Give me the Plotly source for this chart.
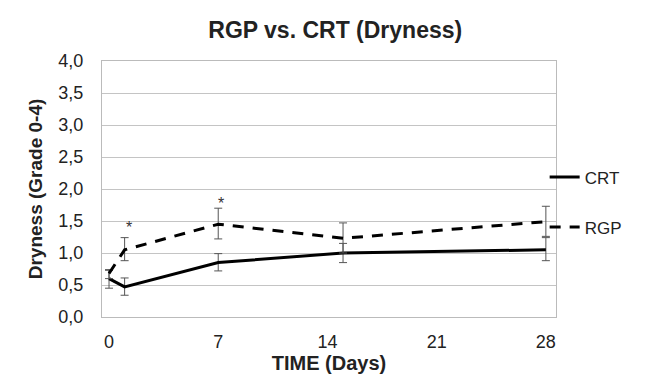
import plotly.graph_objects as go

days_crt = [0, 1, 7, 15, 28]
crt = [0.60, 0.47, 0.85, 1.00, 1.05]
crt_hi = [0.73, 0.61, 0.99, 1.15, 1.24]
crt_lo = [0.45, 0.34, 0.72, 0.85, 0.88]

days_rgp = [0, 1, 7, 15, 28]
rgp = [0.68, 1.05, 1.45, 1.23, 1.49]
rgp_hi = [0.74, 1.24, 1.70, 1.47, 1.73]
rgp_lo = [0.60, 0.88, 1.22, 1.00, 1.26]

star_x = [1.25, 7.2]
star_y = [1.40, 1.78]

x_ticks = [0, 7, 14, 21, 28]
y_ticks = [0, 0.5, 1, 1.5, 2, 2.5, 3, 3.5, 4]

FONT = "Liberation Sans, Arial, sans-serif"
TXT = "#222222"
ERR = "#555555"

fig = go.Figure()
fig.add_trace(go.Scatter(
    x=days_crt, y=crt, mode="lines", name="CRT",
    line=dict(color="black", width=3),
    error_y=dict(type="data", symmetric=False,
                 array=[h - v for h, v in zip(crt_hi, crt)],
                 arrayminus=[v - l for l, v in zip(crt_lo, crt)],
                 color=ERR, thickness=1, width=4),
    legend="legend"))
fig.add_trace(go.Scatter(
    x=days_rgp, y=rgp, mode="lines", name="RGP",
    line=dict(color="black", width=3, dash="11px,9px"),
    error_y=dict(type="data", symmetric=False,
                 array=[h - v for h, v in zip(rgp_hi, rgp)],
                 arrayminus=[v - l for l, v in zip(rgp_lo, rgp)],
                 color=ERR, thickness=1, width=4),
    legend="legend2"))

for sx, sy in zip(star_x, star_y):
    fig.add_annotation(x=sx, y=sy, text="*", showarrow=False,
                       font=dict(family=FONT, size=16, color="#333"))

fig.update_layout(
    width=648, height=374,
    margin=dict(l=94, r=100, t=53, b=63),
    paper_bgcolor="white", plot_bgcolor="white",
    separators=",.",
    title=dict(text="<b>RGP vs. CRT (Dryness)</b>", x=0.505, xanchor="center",
               y=0.94, yanchor="middle",
               font=dict(family=FONT, size=23, color=TXT)),
    legend=dict(x=0.975, y=0.545, xanchor="left", yanchor="middle",
                bgcolor="rgba(0,0,0,0)",
                font=dict(family=FONT, size=17, color=TXT)),
    legend2=dict(x=0.975, y=0.35, xanchor="left", yanchor="middle",
                 bgcolor="rgba(0,0,0,0)",
                 font=dict(family=FONT, size=17, color=TXT)),
    showlegend=True,
)
fig.update_xaxes(range=[-0.45, 28.65], tickvals=x_ticks, showgrid=False,
                 showline=True, linecolor="#bbbbbb", linewidth=1, mirror=True,
                 zeroline=False, ticks="", ticklabelstandoff=8,
                 tickfont=dict(family=FONT, size=18, color=TXT),
                 title=dict(text="<b>TIME (Days)</b>", standoff=4,
                            font=dict(family=FONT, size=20, color=TXT)))
fig.update_yaxes(range=[0, 4], tickvals=y_ticks, tickformat=".1f",
                 showgrid=True, gridcolor="#c4c4c4", gridwidth=1,
                 showline=True, linecolor="#bbbbbb", linewidth=1, mirror=True,
                 zeroline=False, ticks="", ticklabelstandoff=14,
                 tickfont=dict(family=FONT, size=18, color=TXT),
                 title=dict(text="<b>Dryness (Grade 0-4)</b>", standoff=10,
                            font=dict(family=FONT, size=19, color=TXT)))

fig.write_html("out.html")
